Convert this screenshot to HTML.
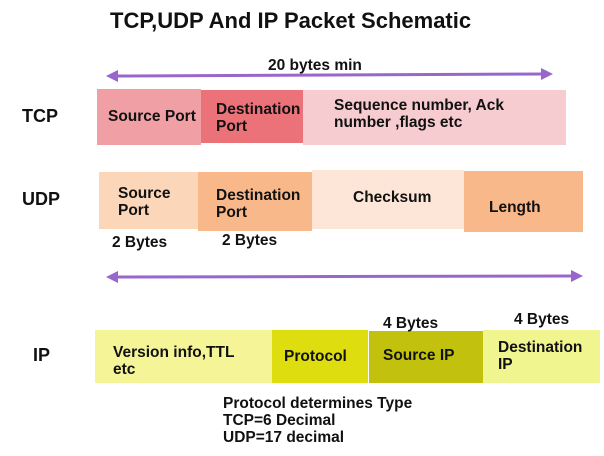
<!DOCTYPE html>
<html><head><meta charset="utf-8"><style>
body{margin:0;width:604px;height:456px;background:#fff;position:relative;overflow:hidden;font-family:"Liberation Sans",Arial,sans-serif;font-weight:bold;color:#111}
.a{position:absolute;white-space:nowrap}
.b{position:absolute}
.t{position:absolute;font-size:15.5px;line-height:17px;white-space:nowrap}
</style></head><body>
<div class="a" style="left:110px;top:8px;font-size:22px">TCP,UDP And IP Packet Schematic</div>
<div class="t" style="left:268px;top:57px">20 bytes min</div>
<svg class="b" style="left:0;top:0" width="604" height="456">
<g stroke="#9966cc" stroke-width="3" fill="#9966cc">
<line x1="115" y1="76" x2="545" y2="74"/>
<polygon points="106,76 118,70 118,82" stroke="none"/>
<polygon points="553,74 541,68 541,80" stroke="none"/>
<line x1="115" y1="277" x2="575" y2="276"/>
<polygon points="106,277 118,271 118,283" stroke="none"/>
<polygon points="583,276 571,270 571,282" stroke="none"/>
</g></svg>
<div class="a" style="left:22px;top:106px;font-size:18px">TCP</div>
<div class="a" style="left:22px;top:189px;font-size:18px">UDP</div>
<div class="a" style="left:33px;top:345px;font-size:18px">IP</div>

<div class="b" style="left:97px;top:89px;width:104px;height:56px;background:#f0a0a4"></div>
<div class="b" style="left:201px;top:90px;width:102px;height:53px;background:#ec727a"></div>
<div class="b" style="left:303px;top:90px;width:263px;height:55px;background:#f6ccd0"></div>
<div class="t" style="left:108px;top:108px">Source Port</div>
<div class="t" style="left:216px;top:101px">Destination<br>Port</div>
<div class="t" style="left:334px;top:97px">Sequence number, Ack<br>number ,flags etc</div>

<div class="b" style="left:99px;top:172px;width:99px;height:57px;background:#fbd6b8"></div>
<div class="b" style="left:198px;top:172px;width:114px;height:59px;background:#f8b88a"></div>
<div class="b" style="left:312px;top:170px;width:152px;height:59px;background:#fde6d8"></div>
<div class="b" style="left:464px;top:171px;width:119px;height:61px;background:#f8b88a"></div>
<div class="t" style="left:118px;top:185px">Source<br>Port</div>
<div class="t" style="left:216px;top:187px">Destination<br>Port</div>
<div class="t" style="left:353px;top:189px">Checksum</div>
<div class="t" style="left:489px;top:199px">Length</div>
<div class="t" style="left:112px;top:234px">2 Bytes</div>
<div class="t" style="left:222px;top:232px">2 Bytes</div>

<div class="b" style="left:95px;top:330px;width:177px;height:53px;background:#f5f597"></div>
<div class="b" style="left:272px;top:330px;width:96px;height:53px;background:#dddd10"></div>
<div class="b" style="left:369px;top:331px;width:114px;height:52px;background:#c2c20e"></div>
<div class="b" style="left:483px;top:330px;width:117px;height:53px;background:#f0f590"></div>
<div class="t" style="left:113px;top:344px">Version info,TTL<br>etc</div>
<div class="t" style="left:284px;top:348px">Protocol</div>
<div class="t" style="left:383px;top:347px">Source IP</div>
<div class="t" style="left:498px;top:339px">Destination<br>IP</div>
<div class="t" style="left:383px;top:315px">4 Bytes</div>
<div class="t" style="left:514px;top:311px">4 Bytes</div>

<div class="t" style="left:223px;top:395px">Protocol determines Type<br>TCP=6 Decimal<br>UDP=17 decimal</div>
</body></html>
